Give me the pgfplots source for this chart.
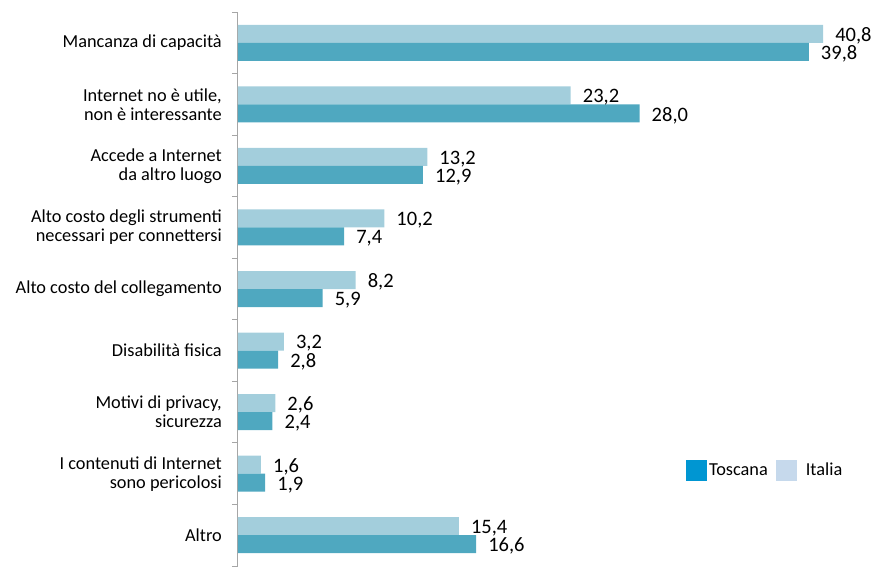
\documentclass[border=0pt]{standalone}
\usepackage{pgfplots}
\pgfplotsset{compat=1.18}
\usepackage{fontspec}
\setmainfont{Carlito}
\definecolor{itaB}{HTML}{A3CEDC}
\definecolor{tosB}{HTML}{4FA8C0}
\definecolor{itaL}{HTML}{C6D9EC}
\definecolor{tosL}{HTML}{0096D2}
\definecolor{axgray}{HTML}{A6A6A6}
\pgfplotsset{sqlegend/.style={legend image code/.code={\fill[##1] (0pt,-10.5pt) rectangle (21pt,10.5pt);}}}
\begin{document}
\begin{tikzpicture}
\useasboundingbox (-238pt,0pt) rectangle (638pt,566pt);
\begin{axis}[
  at={(0pt,0pt)}, anchor=south west,
  scale only axis,
  width=631pt, height=554pt,
  xbar, bar width=18pt,
  xmin=0, xmax=44, ymin=-0.5, ymax=8.5,
  enlargelimits=false,
  y dir=reverse,
  clip=false,
  axis x line=none,
  axis y line*=left,
  axis line style={axgray, line width=1pt},
  ytick={0,...,8},
  major tick length=0pt,
  minor ytick={-0.5,0.5,...,8.5},
  minor tick length=6pt,
  tick align=outside,
  minor tick style={axgray, line width=1pt},
  yticklabels={
    {Mancanza di capacità},
    {Internet no è utile,\\non è interessante},
    {Accede a Internet\\da altro luogo},
    {Alto costo degli strumenti\\necessari per connettersi},
    {Alto costo del collegamento},
    {Disabilità fisica},
    {Motivi di privacy,\\sicurezza},
    {I contenuti di Internet\\sono pericolosi},
    {Altro}},
  yticklabel style={align=right, font=\fontsize{18.3}{19}\selectfont, inner sep=0pt, xshift=-16pt},
  nodes near coords,
  /pgf/number format/.cd, fixed, fixed zerofill, precision=1, use comma, assume math mode=true,
  /pgfplots/.cd,
  nodes near coords style={font=\fontsize{20.5}{22}\selectfont, anchor=west, inner sep=0pt, xshift=12pt, yshift=-2pt, text=black},
  legend columns=2,
  legend style={draw=none, fill=none, at={(0.71,0.173)}, anchor=west,
    font=\fontsize{18.3}{19}\selectfont,
    nodes={inner sep=2pt},
    /tikz/every even column/.append style={column sep=6pt},
    inner sep=0pt, outer sep=0pt},
  legend cell align=left,
]
\addplot[draw=none, fill=itaB, bar shift=9pt, forget plot] coordinates {
(40.8,0) (23.2,1) (13.2,2) (10.2,3) (8.2,4) (3.2,5) (2.6,6) (1.6,7) (15.4,8)};
\addplot[draw=none, fill=tosB, bar shift=-9pt, forget plot] coordinates {
(39.8,0) (28.0,1) (12.9,2) (7.4,3) (5.9,4) (2.8,5) (2.4,6) (1.9,7) (16.6,8)};
\addlegendimage{fill=tosL, draw=none, sqlegend}
\addlegendentry{Toscana}
\addlegendimage{fill=itaL, draw=none, sqlegend}
\addlegendentry{\hspace{7pt}Italia}
\end{axis}
\end{tikzpicture}
\end{document}
